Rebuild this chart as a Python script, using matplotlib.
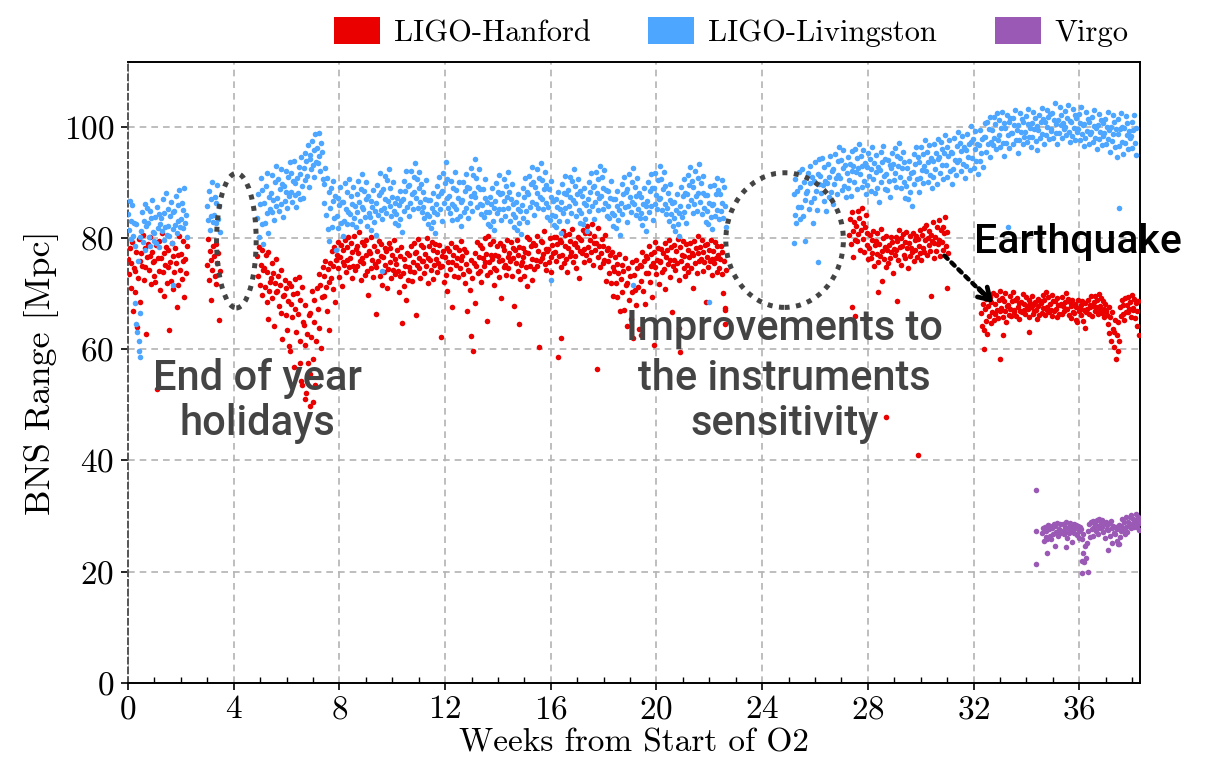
import numpy as np
import matplotlib
matplotlib.use("Agg")
import matplotlib.pyplot as plt
from matplotlib.patches import Ellipse, Patch
from matplotlib.ticker import MultipleLocator

# ---------------- data (BNS range in Mpc) ----------------
# each row: start week, then 8 consecutive samples covering ROW_SPAN weeks
ROW_SPAN = 0.25

H1_ROWS = """
0.00 76.2 73.5 78.1 71.0 75.4 79.3 66.8 74.6
0.25 74.1 70.2 77.5 63.9 72.8 79.8 68.4 75.9
0.50 77.3 75.0 80.6 72.4 78.2 74.7 62.8 76.5
0.75 78.9 74.3 76.8 80.1 71.7 77.4 75.6 73.2
1.00 75.8 72.1 78.7 52.9 76.3 74.0 79.5 70.6
1.25 76.4 80.9 73.8 77.2 69.5 75.1 78.4 71.9
1.50 74.8 77.9 63.5 75.6 72.3 79.1 70.8 76.7
1.75 73.9 78.2 75.4 67.6 76.9 71.5 80.3 74.2
2.00 77.1 72.6 79.4 75.8 69.3 76.2 73.7 78.6
3.00 75.2 79.8 72.4 77.6 68.9 76.1 74.3 78.5
3.25 76.8 73.1 78.9 71.7 75.5 77.3 65.2 74.0
4.90 76.8 73.2 78.4 71.5 75.1 77.9 69.7 74.3
5.15 74.6 71.2 76.9 68.4 73.8 77.5 70.5 72.1
5.40 72.8 75.4 69.1 73.6 64.2 71.9 76.2 70.3
5.65 70.4 73.1 67.8 71.6 66.5 74.2 61.9 69.5
5.90 69.8 72.5 66.1 70.9 63.4 68.7 71.8 59.6
6.15 68.2 71.4 65.7 69.9 56.8 67.3 72.6 63.1
6.40 70.1 66.4 73.0 61.5 68.8 54.2 71.2 64.9
6.65 64.3 60.8 67.9 52.1 62.7 57.5 66.2 49.8
6.90 66.5 62.1 70.4 58.3 64.8 68.9 53.6 61.4
7.15 70.9 67.3 73.5 63.8 71.6 60.2 69.4 74.7
7.40 73.2 69.6 75.8 71.1 66.9 74.4 72.0 63.5
7.65 75.4 72.7 77.6 70.8 74.9 78.3 68.5 76.1
7.90 77.0 74.6 79.3 72.9 76.5 78.8 71.4 75.7
8.15 77.8 75.2 79.6 73.9 78.4 76.1 80.2 74.7
8.40 76.3 79.1 72.8 77.5 75.0 80.4 74.2 78.0
8.65 78.6 74.9 77.3 81.0 75.8 72.5 79.2 76.4
8.90 75.5 78.8 73.4 76.9 79.7 74.1 69.8 77.6
9.15 77.2 74.5 80.1 76.0 72.9 78.5 75.3 66.4
9.40 74.8 77.6 75.9 79.4 73.2 76.7 78.9 71.6
9.65 76.5 73.8 78.2 75.1 77.7 70.9 74.4 79.0
9.90 78.1 75.6 72.7 77.0 74.3 79.6 76.2 73.5
10.15 75.3 77.9 74.0 70.2 76.8 73.1 78.4 64.7
10.40 73.6 76.2 71.4 75.0 68.9 77.3 72.5 74.8
10.65 76.9 74.1 78.6 72.3 75.7 79.1 73.8 77.2
10.90 77.4 75.2 79.8 74.6 76.3 72.8 78.7 75.9
11.15 75.8 78.3 73.6 77.1 74.9 80.0 76.4 71.9
11.40 78.5 76.0 74.2 79.3 72.6 77.8 75.1 78.9
11.65 76.2 73.9 77.5 75.4 78.8 74.7 62.1 76.8
11.90 74.9 77.7 72.1 76.5 73.3 78.1 70.4 75.6
12.15 77.6 74.4 79.0 75.7 67.5 76.9 73.2 78.3
12.40 75.1 78.4 76.3 73.0 77.9 74.6 79.5 76.0
12.65 76.7 73.5 78.0 71.8 75.3 77.4 66.9 74.2
12.90 74.0 70.6 76.1 62.4 72.8 59.7 75.5 68.3
13.15 77.3 75.0 79.2 73.7 76.6 78.7 74.1 72.0
13.40 78.2 76.4 74.9 79.9 75.6 77.1 73.3 80.3
13.65 75.7 78.9 73.8 77.0 76.2 79.4 71.5 74.6
13.90 77.0 74.3 78.5 76.8 72.9 75.9 79.1 69.2
14.15 76.1 78.6 74.7 77.8 75.2 73.4 79.7 76.6
14.40 74.5 77.2 75.8 79.3 73.1 76.4 78.2 67.8
14.65 77.9 75.5 79.6 74.0 76.9 78.4 72.6 75.1
14.90 75.6 78.1 76.5 73.2 77.4 74.8 80.1 71.3
15.15 77.3 79.8 75.0 78.6 76.2 72.5 79.0 74.4
15.40 78.8 76.1 80.4 74.9 77.7 60.3 75.8 79.5
15.65 76.4 79.2 77.1 81.3 75.3 78.0 74.2 77.6
15.90 78.0 75.7 79.9 76.6 73.8 78.7 77.3 80.2
16.15 77.5 80.1 75.9 78.9 58.6 76.8 79.6 74.7
16.40 79.3 77.0 81.2 75.4 78.6 80.5 76.2 73.9
16.65 78.1 80.7 76.8 79.5 77.4 81.6 75.6 78.9
16.90 76.7 79.1 74.5 78.3 80.2 72.8 77.6 79.8
17.15 79.6 77.3 81.4 78.0 75.7 80.8 76.9 82.1
17.40 78.4 80.9 76.1 79.7 77.5 82.5 75.2 79.1
17.65 80.3 77.9 79.0 56.5 81.7 76.6 78.5 74.8
17.90 77.2 79.8 75.4 78.6 76.0 80.6 72.3 77.8
18.15 75.8 78.2 73.6 76.9 71.9 77.5 74.7 69.6
18.40 74.1 76.6 71.8 75.3 69.4 73.7 77.1 66.8
18.65 72.6 75.2 70.3 74.0 67.1 76.3 71.5 64.2
18.90 71.8 74.6 68.9 73.1 65.5 75.7 70.2 62.0
19.15 73.4 70.7 76.0 67.9 74.5 71.2 63.6 75.1
19.40 74.9 72.2 77.4 70.5 75.9 68.1 73.6 76.8
19.65 76.3 73.7 78.5 72.0 77.1 74.9 69.3 75.4
19.90 77.4 74.8 79.3 73.5 76.0 78.1 71.7 75.9
20.15 75.6 78.0 73.9 77.2 74.4 79.0 70.8 76.5
20.40 77.8 75.3 79.6 76.1 73.0 78.4 66.7 74.9
20.65 76.0 78.7 74.2 77.6 75.5 79.8 72.4 63.8
20.90 78.3 75.9 77.0 79.4 74.6 76.7 73.1 78.9
21.15 75.2 77.8 73.8 76.6 79.1 74.5 77.3 71.0
21.40 76.9 79.5 75.4 78.1 73.7 77.2 80.3 75.8
21.65 78.4 76.2 79.7 74.0 77.5 75.6 78.8 68.5
21.90 76.5 78.9 74.7 77.9 75.9 79.6 73.4 76.2
22.15 77.7 75.4 79.2 76.3 78.5 73.9 77.0 74.6
22.40 76.2 78.6 73.5 77.4 70.1 75.8 67.4 74.3
27.30 80.6 83.4 78.9 84.7 81.2 76.5 82.8 79.7
27.55 82.1 79.4 84.9 80.7 83.6 77.8 81.5 85.3
27.80 79.8 82.6 77.5 81.9 84.1 78.7 80.9 76.2
28.05 78.2 80.5 76.4 79.6 77.3 81.2 74.9 78.8
28.30 79.4 77.1 80.8 75.6 78.9 76.7 81.6 72.3
28.55 77.6 79.9 76.2 78.4 74.8 80.3 77.9 75.5
28.80 78.7 76.3 80.1 77.5 79.2 73.6 78.0 76.9
29.05 80.2 77.8 79.5 76.1 81.4 78.3 75.2 79.9
29.30 78.5 80.7 77.0 79.3 76.4 81.0 78.1 74.6
29.55 79.1 76.8 80.4 78.2 77.5 80.9 75.9 79.6
29.80 77.9 80.3 76.6 79.8 78.6 81.5 77.2 76.0
30.05 80.6 78.1 81.8 77.4 79.7 82.3 76.9 80.0
30.30 78.8 81.2 77.7 80.5 79.4 82.8 76.3 79.1
30.55 80.1 77.6 81.9 78.9 83.2 79.6 76.8 81.4
30.80 79.3 82.0 77.9 80.8 83.7 78.5 81.1 77.2
32.30 66.5 64.2 68.1 63.5 67.2 65.0 69.0 62.8
32.55 67.8 65.9 69.3 64.7 68.4 66.6 70.1 65.3
32.80 68.2 66.4 69.7 67.1 65.6 68.9 70.4 66.9
33.05 67.4 69.1 65.8 68.6 66.9 70.0 64.9 67.7
33.30 68.0 66.2 69.5 67.3 65.9 68.7 70.3 66.6
33.55 67.1 68.8 66.0 69.2 67.6 65.4 68.3 66.8
33.80 68.5 66.7 69.9 67.0 68.1 66.3 69.4 67.8
34.05 67.2 68.9 65.7 68.3 67.5 69.6 66.4 67.9
34.30 66.8 68.4 67.1 65.5 69.0 67.7 66.2 68.6
34.55 68.3 66.5 69.7 67.4 68.8 66.1 70.2 67.0
34.80 67.6 69.3 66.6 68.2 67.0 69.8 65.9 68.7
35.05 66.9 68.6 67.3 65.8 69.1 67.9 66.4 68.0
35.30 68.1 66.3 69.4 67.7 66.8 68.5 70.0 67.2
35.55 67.3 69.0 66.1 68.4 67.8 65.6 68.9 66.7
35.80 66.5 68.2 65.3 67.6 64.9 68.8 66.9 67.4
36.05 67.9 66.2 68.7 65.1 67.0 63.8 68.3 66.6
36.30 67.2 68.9 66.4 68.0 67.6 69.5 66.0 67.8
36.55 68.4 66.8 69.6 67.5 68.9 66.3 69.9 67.1
36.80 67.7 69.2 66.5 68.6 67.3 65.8 68.1 66.9
37.05 66.2 64.5 67.6 62.9 65.8 61.4 66.7 63.7
37.30 63.1 60.4 65.2 58.3 62.6 59.7 64.8 61.5
37.55 67.5 65.9 68.8 66.4 67.9 65.2 69.1 66.7
37.80 68.0 66.6 69.4 67.3 68.5 65.8 69.8 67.1
38.05 67.4 69.0 65.6 68.3 66.9 64.1 68.7 62.5
"""

L1_ROWS = """
0.00 84.2 81.5 86.7 79.8 83.1 85.9 80.4 82.7
0.25 78.6 68.3 82.4 63.1 75.9 59.7 80.1 66.5
0.50 81.3 84.6 79.2 83.0 86.1 77.8 82.2 85.3
0.75 82.7 80.1 84.9 78.6 83.5 86.8 81.0 79.4
1.00 80.9 83.8 79.1 85.6 81.7 84.3 78.3 82.5
1.25 83.6 81.2 86.9 79.7 84.4 82.0 88.1 80.5
1.50 82.1 85.2 80.3 83.9 86.4 79.0 84.7 81.6
1.75 84.8 82.3 87.5 80.8 85.9 83.1 88.6 81.9
2.00 83.4 86.2 81.7 85.0 88.9 82.6 84.1 80.2
3.00 85.8 83.2 88.4 81.5 86.9 84.0 90.1 82.8
3.25 84.1 87.3 82.6 86.2 89.5 83.4 85.7 81.0
4.90 83.5 87.9 80.2 86.1 90.8 82.4 88.6 78.9
5.15 86.2 82.7 89.4 84.5 91.7 80.9 87.3 85.1
5.40 88.0 84.6 91.3 86.8 83.2 90.1 85.7 92.9
5.65 87.1 90.5 84.9 88.7 92.4 86.0 89.6 83.7
5.90 89.4 86.6 92.1 88.2 85.3 91.0 87.5 93.6
6.15 88.3 91.6 86.4 90.2 93.9 87.7 89.8 85.6
6.40 90.7 88.1 92.8 86.9 91.4 94.5 89.3 87.2
6.65 92.6 95.3 90.4 93.8 91.2 96.7 89.1 94.2
6.90 94.9 92.3 97.4 93.1 95.8 91.0 98.6 93.7
7.15 96.2 93.5 98.9 94.7 92.1 97.0 95.5 90.6
7.40 89.7 86.3 92.5 84.1 90.8 81.6 88.2 79.4
7.65 85.4 88.9 82.0 86.7 90.3 83.5 87.6 77.8
7.90 84.0 87.2 81.8 85.9 89.1 82.7 86.4 80.3
8.15 86.5 83.1 89.8 85.2 82.4 88.3 84.7 90.6
8.40 84.3 87.6 82.5 86.0 89.2 83.6 85.8 81.9
8.65 87.9 84.6 90.3 86.4 83.0 88.7 85.5 91.4
8.90 85.1 88.4 83.7 86.9 90.0 82.2 87.5 84.4
9.15 83.8 86.7 81.4 85.5 88.6 82.9 84.9 80.6
9.40 86.3 89.5 84.1 87.7 91.6 85.0 88.2 83.3
9.65 88.8 85.4 91.2 87.0 84.5 90.4 86.6 92.3
9.90 85.7 88.9 83.9 87.3 90.1 84.8 86.2 82.6
10.15 84.2 87.1 82.3 85.9 88.5 83.4 86.7 81.1
10.40 86.9 90.2 84.8 88.4 92.0 85.6 89.3 83.9
10.65 89.5 86.2 92.1 87.8 85.1 90.9 88.3 93.4
10.90 87.2 90.6 85.3 88.9 91.8 86.4 89.7 84.7
11.15 85.6 88.3 83.5 87.0 90.4 84.2 86.8 82.4
11.40 83.9 86.8 81.7 85.3 88.1 82.8 84.6 80.9
11.65 86.1 89.4 84.3 87.6 90.9 85.2 88.0 83.0
11.90 88.4 91.7 86.2 89.9 93.6 87.1 90.5 85.3
12.15 87.6 84.5 90.3 86.1 83.2 89.0 85.7 91.9
12.40 85.2 88.6 83.4 87.1 90.0 84.0 86.5 82.1
12.65 86.8 90.1 84.7 88.5 91.5 85.4 89.2 83.6
12.90 89.0 86.3 92.6 87.5 84.9 91.3 88.1 94.1
13.15 87.4 90.8 85.6 89.1 92.3 86.0 88.7 84.2
13.40 85.9 88.7 83.8 87.2 90.5 84.6 86.4 82.5
13.65 84.6 87.3 82.2 86.0 88.9 83.1 85.3 81.4
13.90 86.6 89.9 84.4 88.2 91.3 85.1 87.8 83.2
14.15 88.1 85.2 90.6 86.7 84.0 89.4 87.3 91.8
14.40 85.4 88.2 83.1 86.9 89.6 84.3 86.1 82.0
14.65 83.7 86.5 81.5 85.1 87.9 82.6 84.8 80.7
14.90 85.9 89.0 83.6 87.4 90.7 84.8 88.3 82.8
15.15 87.8 91.2 85.5 89.6 92.8 86.5 90.1 84.1
15.40 89.2 86.0 92.4 88.0 85.3 90.8 87.4 93.5
15.65 87.0 90.4 85.1 88.7 91.9 86.2 89.5 83.8
15.90 85.5 88.8 83.2 87.3 90.2 84.1 86.6 82.3
16.15 84.0 86.9 81.9 85.6 88.3 83.0 85.1 80.8
16.40 86.4 89.7 84.5 88.0 91.1 85.3 87.9 83.1
16.65 88.6 85.7 91.0 87.3 84.4 90.2 86.8 92.4
16.90 86.2 89.3 84.0 87.8 90.6 85.0 88.4 82.7
17.15 84.5 87.6 82.4 86.2 89.0 83.3 85.9 81.2
17.40 86.9 90.0 84.8 88.3 91.6 85.7 89.1 83.4
17.65 89.3 86.4 91.8 88.1 85.0 90.6 87.2 93.0
17.90 87.5 90.9 85.2 89.0 92.2 86.3 88.6 84.0
18.15 85.8 88.5 83.5 87.1 90.3 84.4 86.9 82.2
18.40 84.1 87.0 81.8 85.7 88.4 83.2 85.0 80.5
18.65 86.3 89.6 84.2 87.9 91.0 85.5 88.2 82.9
18.90 88.7 85.8 91.4 87.4 84.6 90.0 86.5 92.6
19.15 86.0 89.2 84.1 87.6 90.8 85.2 88.0 83.5
19.40 84.4 87.4 82.3 86.1 88.9 83.6 85.7 81.3
19.65 86.7 90.1 84.6 88.4 91.4 85.8 89.0 83.2
19.90 88.9 86.1 91.7 87.7 85.2 90.4 87.0 92.9
20.15 87.1 90.5 85.0 88.8 91.9 86.1 89.4 84.3
20.40 85.3 88.1 83.0 86.8 89.7 84.2 86.3 82.1
20.65 83.6 86.4 81.3 85.0 87.8 82.5 84.5 80.4
20.90 85.8 89.1 83.7 87.5 90.5 84.7 88.1 82.6
21.15 87.9 91.3 85.8 89.5 92.7 86.8 90.3 84.5
21.40 89.1 86.0 92.0 87.6 84.8 90.7 88.0 93.2
21.65 86.5 89.8 84.3 88.1 91.2 85.4 87.7 82.8
21.90 84.8 87.7 82.5 86.3 89.3 83.7 85.9 81.6
22.15 86.1 89.5 84.0 87.9 90.8 85.0 88.6 83.3
22.40 87.8 84.9 90.4 86.2 83.6 89.1 85.8 82.0
25.20 87.9 84.1 90.6 82.7 88.4 85.5 91.8 83.3
25.45 89.2 85.6 92.3 83.9 90.1 86.8 79.4 88.0
25.70 88.5 91.7 85.2 89.8 93.0 86.4 90.9 82.6
25.95 90.3 87.1 93.6 88.4 85.0 91.5 89.6 94.2
26.20 91.1 88.0 94.4 89.5 86.7 92.8 90.2 84.9
26.45 89.9 93.2 87.4 91.0 94.8 88.3 92.1 86.1
26.70 92.4 89.6 95.1 90.7 87.9 93.8 91.3 96.3
26.95 90.8 94.0 88.6 92.5 95.7 89.4 93.1 87.3
27.20 91.6 88.9 94.5 90.4 93.3 87.6 92.0 95.6
27.45 93.0 90.1 95.9 91.8 88.8 94.3 92.6 96.9
27.70 91.4 94.7 89.2 92.9 95.8 90.3 93.5 87.8
27.95 92.7 89.5 95.2 91.1 94.1 88.4 92.3 96.4
28.20 90.6 93.4 88.1 91.9 94.9 89.0 92.8 86.5
28.45 92.2 95.5 90.0 93.6 96.5 91.2 94.2 88.7
28.70 91.5 88.6 94.0 90.2 93.1 87.4 92.5 95.3
28.95 93.3 90.4 96.2 91.7 89.1 94.8 92.9 97.1
29.20 91.0 94.3 88.9 92.6 95.4 90.1 93.7 87.2
29.45 89.4 92.5 87.0 90.8 93.9 88.2 91.6 85.8
29.70 91.9 95.1 89.7 93.2 96.3 90.6 94.5 88.3
29.95 93.6 90.7 96.4 92.2 89.8 95.0 93.0 97.5
30.20 92.0 95.4 90.1 93.7 96.6 91.3 94.4 88.9
30.45 93.8 90.9 96.8 92.4 95.3 89.6 94.1 97.8
30.70 94.5 91.6 97.2 93.1 96.0 90.5 95.2 98.4
30.95 93.1 96.3 91.0 94.7 97.6 92.0 95.5 89.7
31.20 95.2 92.4 97.9 94.0 91.3 96.5 93.6 99.0
31.45 94.0 97.1 92.1 95.6 98.3 93.3 96.4 90.8
31.70 95.8 93.0 98.6 94.5 96.9 92.2 97.3 100.1
31.95 94.4 97.7 92.6 96.0 99.2 93.8 96.8 91.5
32.20 96.6 93.9 99.4 95.3 97.8 92.7 98.2 100.6
32.45 98.1 95.4 100.9 96.8 99.5 94.6 101.7 97.3
32.70 99.3 96.7 101.8 98.0 100.4 95.9 102.5 97.6
32.95 98.4 101.2 96.3 99.8 102.6 97.1 100.7 94.8
33.20 99.7 97.0 102.1 98.5 100.9 96.2 101.5 98.9
33.45 98.9 101.6 96.8 100.2 102.9 97.5 99.4 95.3
33.70 100.3 97.6 102.4 99.1 101.3 96.9 100.8 98.2
33.95 99.0 101.9 97.3 100.5 103.1 98.1 99.8 96.4
34.20 100.6 98.2 102.7 99.5 101.6 97.4 100.1 95.7
34.45 99.4 102.0 97.9 100.9 103.4 98.6 101.3 96.8
34.70 100.9 98.5 103.0 99.9 101.8 97.7 102.3 99.2
34.95 99.6 102.4 98.0 101.1 104.2 98.8 100.4 96.9
35.20 101.2 98.9 103.5 100.3 102.1 97.9 100.7 99.5
35.45 100.0 102.8 98.4 101.5 103.9 99.1 101.0 97.2
35.70 100.8 98.3 103.2 99.7 102.0 97.5 101.6 99.0
35.95 99.5 102.2 97.6 100.6 103.6 98.7 100.2 96.5
36.20 100.4 97.9 102.6 99.2 101.4 96.8 100.9 98.6
36.45 99.1 101.7 97.2 100.1 102.9 98.0 99.7 95.9
36.70 100.2 97.7 102.3 99.0 101.1 96.6 100.6 98.3
36.95 98.8 101.4 96.9 99.9 102.7 97.8 99.3 95.4
37.20 99.9 97.4 102.0 98.7 100.8 96.3 99.5 94.6
37.45 98.6 101.3 96.5 99.6 102.4 97.2 100.0 95.1
37.70 99.7 97.1 101.9 98.4 100.6 96.0 99.2 97.9
37.95 98.3 100.9 96.2 99.4 102.1 97.0 99.8 94.9
"""

V1_ROWS = """
34.60 26.9 27.8 25.6 28.1 26.3 27.4 25.9 28.4
34.85 27.6 26.5 28.3 25.8 27.9 26.8 28.6 24.7
35.10 28.2 27.1 28.8 26.4 27.7 28.5 26.9 27.3
35.35 27.4 28.6 26.7 28.0 27.2 28.9 26.1 27.8
35.60 28.1 26.9 28.7 27.5 25.3 28.3 27.0 28.5
35.85 27.9 28.4 26.6 28.2 27.3 26.0 28.0 27.6
36.10 25.9 23.4 26.8 21.7 24.6 22.5 25.2 19.9
36.35 27.3 28.5 26.2 28.9 27.7 29.1 26.5 28.0
36.60 28.6 27.4 29.2 26.8 28.3 29.5 27.9 28.8
36.85 28.0 29.3 27.2 28.7 26.1 29.0 27.6 28.4
37.10 27.5 28.8 26.4 29.1 27.9 25.2 28.3 27.0
37.35 26.8 28.1 25.6 27.7 24.9 28.4 26.3 27.3
37.60 28.2 29.4 27.6 28.9 26.7 29.8 28.0 27.1
37.85 29.0 28.3 29.9 27.8 30.2 28.6 29.5 28.1
38.10 29.3 28.7 30.4 28.0 29.8 27.5 29.1 28.8
"""

# isolated points (week, Mpc)
h1_stray_weeks = [5.3, 6.1, 6.5, 6.6, 6.7, 6.9, 7.0, 10.9, 13.6, 14.8, 16.4, 19.4,
                  19.9, 20.9, 22.6, 22.6, 27.4, 27.5, 28.7, 29.9, 28.4, 29.1, 30.4,
                  31.0, 32.4, 33.0, 33.1, 34.1]
h1_stray_range = [65.5, 60.5, 57.5, 53.5, 51.0, 55.5, 50.5, 66.2, 65.0, 64.5, 62.0, 62.5,
                  60.8, 59.5, 67.0, 64.5, 67.5, 66.0, 47.8, 40.9, 70.2, 68.6, 69.5,
                  71.0, 60.1, 58.3, 62.5, 63.0]
l1_stray_weeks = [0.40, 0.45, 0.30, 1.70, 25.2, 26.1, 33.3, 37.5, 16.0, 19.1, 22.0, 9.6]
l1_stray_range = [61.5, 58.5, 64.5, 71.5, 79.0, 75.6, 81.9, 85.3, 72.5, 71.6, 68.4, 74.0]
v1_stray_weeks = [34.35, 34.35, 34.35, 34.8, 35.5, 36.1, 36.1, 37.1, 37.5]
v1_stray_range = [34.6, 27.3, 21.4, 23.3, 24.5, 21.9, 19.7, 23.9, 25.0]

detectors = ["LIGO-Hanford", "LIGO-Livingston", "Virgo"]
colors = ["#eb0000", "#4da6ff", "#9b59b6"]

x_ticks = [0, 4, 8, 12, 16, 20, 24, 28, 32, 36]
y_ticks = [0, 20, 40, 60, 80, 100]


def parse_rows(text):
    weeks, vals = [], []
    for line in text.strip().splitlines():
        parts = line.split()
        t0 = float(parts[0])
        v = [float(p) for p in parts[1:]]
        n = len(v)
        for k, val in enumerate(v):
            weeks.append(t0 + ROW_SPAN * k / n)
            vals.append(val)
    return np.array(weeks), np.array(vals)


h1_w, h1_r = parse_rows(H1_ROWS)
l1_w, l1_r = parse_rows(L1_ROWS)
v1_w, v1_r = parse_rows(V1_ROWS)
h1_w = np.concatenate([h1_w, h1_stray_weeks]); h1_r = np.concatenate([h1_r, h1_stray_range])
l1_w = np.concatenate([l1_w, l1_stray_weeks]); l1_r = np.concatenate([l1_r, l1_stray_range])
v1_w = np.concatenate([v1_w, v1_stray_weeks]); v1_r = np.concatenate([v1_r, v1_stray_range])

# ---------------- figure ----------------
plt.rcParams['font.family'] = 'serif'
plt.rcParams['font.serif'] = ['cmr10', 'DejaVu Serif']
plt.rcParams['mathtext.fontset'] = 'cm'
plt.rcParams['axes.unicode_minus'] = False
plt.rcParams['axes.formatter.use_mathtext'] = True

fig = plt.figure(figsize=(12.09, 7.63), dpi=100)
ax = fig.add_axes([0.1059, 0.1049, 0.8370, 0.8138])

ms = 16
for (w, r), c in zip([(h1_w, h1_r), (l1_w, l1_r), (v1_w, v1_r)], colors):
    ax.scatter(w, r, s=ms, c=c, linewidths=0, zorder=3)

ax.set_xlim(0, 38.3)
ax.set_ylim(0, 111.6)
ax.set_xticks(x_ticks)
ax.set_yticks(y_ticks)
ax.xaxis.set_minor_locator(MultipleLocator(1))
ax.tick_params(axis='both', which='major', labelsize=24, direction='out', length=5, width=1.2)
ax.tick_params(axis='y', which='major', pad=5)
ax.tick_params(axis='x', which='major', pad=4)
ax.tick_params(axis='x', which='minor', direction='in', length=4, width=1.0)
ax.grid(True, which='major', color='#b3b3b3', linestyle=(0, (4, 3)), linewidth=1.2, zorder=0)
ax.set_axisbelow(True)

for side in ['top', 'right', 'bottom']:
    ax.spines[side].set_color('black')
    ax.spines[side].set_linewidth(1.4)
ax.spines['left'].set_color('#555555')
ax.spines['left'].set_linestyle((0, (3, 2)))
ax.spines['left'].set_linewidth(1.4)

ax.set_xlabel('Weeks from Start of O2', fontsize=24, labelpad=3)
ax.set_ylabel('BNS Range [Mpc]', fontsize=26, labelpad=3)

# annotations
ell_kw = dict(fill=False, edgecolor='#444444', linewidth=3.6, linestyle=(0, (1, 1.3)), zorder=5)
ax.add_patch(Ellipse((4.1, 79.5), width=1.5, height=24.2, **ell_kw))
ax.add_patch(Ellipse((24.85, 79.6), width=4.45, height=24.2, **ell_kw))

sans = ['Roboto', 'Liberation Sans', 'DejaVu Sans']
tkw = dict(family=sans, weight='medium', color='#444444', fontsize=30,
           ha='center', va='center', zorder=6)
ax.text(4.9, 54.8, 'End of year', **tkw)
ax.text(4.9, 46.7, 'holidays', **tkw)
ax.text(24.85, 63.7, 'Improvements to', **tkw)
ax.text(24.85, 54.8, 'the instruments', **tkw)
ax.text(24.85, 46.7, 'sensitivity', **tkw)
ax.text(32.0, 79.3, 'Earthquake', family=sans, weight='medium', color='black',
        fontsize=29.5, ha='left', va='center', zorder=6)

ax.annotate('', xy=(32.55, 69.1), xytext=(30.9, 76.8),
            arrowprops=dict(arrowstyle='-', color='black', lw=3.2,
                            linestyle=(0, (1, 1.2)), shrinkA=0, shrinkB=0), zorder=6)
ax.annotate('', xy=(32.75, 68.3), xytext=(32.2, 70.9),
            arrowprops=dict(arrowstyle='->,head_length=0.8,head_width=0.5', color='black',
                            lw=3.4, shrinkA=0, shrinkB=0), zorder=6)

handles = [Patch(facecolor=c, edgecolor='none') for c in colors]
fig.legend(handles, detectors, loc='center right', bbox_to_anchor=(0.956, 0.958),
           ncol=3, frameon=False, fontsize=22, handlelength=1.5, handleheight=1.0,
           handletextpad=0.45, columnspacing=1.9)

fig.savefig('out.png', dpi=100)
